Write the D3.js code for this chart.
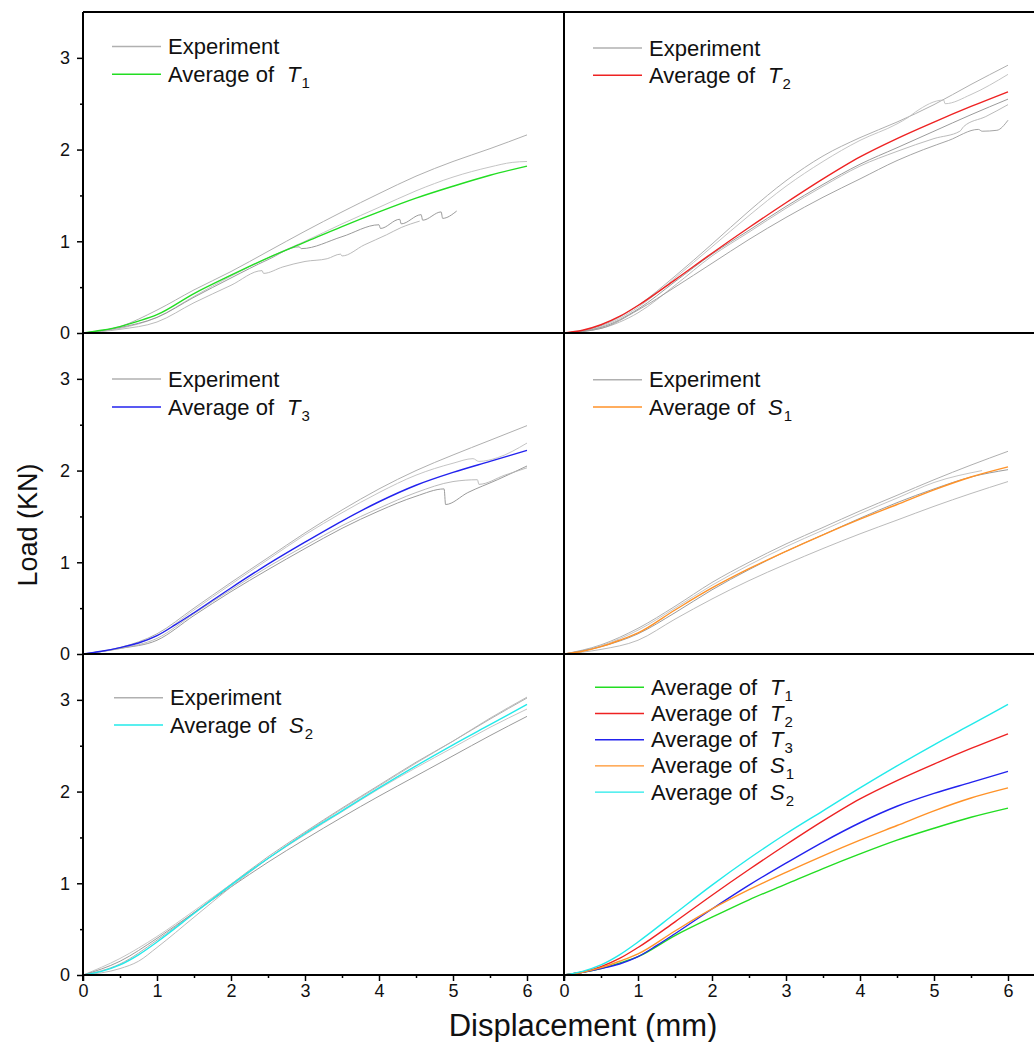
<!DOCTYPE html>
<html>
<head>
<meta charset="utf-8">
<script src="https://cdn.jsdelivr.net/npm/d3@7"></script>
<style>
  body { margin: 0; background: #fff; }
  svg { display: block; font-family: "Liberation Sans", Arial, sans-serif; }
</style>
</head>
<body>
<div id="chart"></div>
<script>
// DATA  (displacement mm, load KN)
const xTicks = [0, 1, 2, 3, 4, 5, 6];
const yTicks = [0, 1, 2, 3];

const avgT1 = [[0,0],[0.25,0.03],[0.5,0.07],[0.75,0.13],[1,0.2],[1.5,0.43],[2,0.63],[2.5,0.82],[3,0.99],[3.5,1.16],[4,1.32],[4.5,1.47],[5,1.6],[5.5,1.72],[6,1.82]];
const avgT2 = [[0,0],[0.25,0.03],[0.5,0.09],[0.75,0.18],[1,0.3],[1.5,0.58],[2,0.87],[2.5,1.15],[3,1.42],[3.5,1.68],[4,1.92],[4.5,2.12],[5,2.3],[5.5,2.47],[6,2.63]];
const avgT3 = [[0,0],[0.25,0.03],[0.5,0.07],[0.75,0.12],[1,0.2],[1.25,0.32],[1.5,0.45],[2,0.72],[2.5,0.98],[3,1.22],[3.5,1.45],[4,1.66],[4.5,1.84],[5,1.98],[5.5,2.1],[6,2.22]];
const avgS1 = [[0,0],[0.25,0.03],[0.5,0.08],[0.75,0.15],[1,0.23],[1.5,0.48],[2,0.72],[2.5,0.93],[3,1.12],[3.5,1.3],[4,1.47],[4.5,1.63],[5,1.79],[5.5,1.93],[6,2.04]];
const avgS2 = [[0,0],[0.25,0.04],[0.5,0.11],[0.75,0.22],[1,0.36],[1.5,0.67],[2,0.98],[2.5,1.27],[3,1.54],[3.5,1.79],[4,2.04],[4.5,2.28],[5,2.51],[5.5,2.73],[6,2.95]];

const expT1 = [
  [[0,0],[0.5,0.07],[1,0.25],[1.5,0.47],[2,0.67],[2.5,0.89],[3,1.11],[3.5,1.32],[4,1.52],[4.5,1.71],[5,1.87],[5.5,2.01],[6,2.16]],
  [[0,0],[0.5,0.05],[1,0.17],[1.5,0.4],[2,0.62],[2.5,0.82],[3,1.0],[3.5,1.19],[4,1.37],[4.5,1.55],[5,1.7],[5.5,1.81],[5.8,1.86],[6,1.87]],
  [[0,0],[0.5,0.06],[1,0.17],[1.5,0.39],[2,0.6],[2.5,0.8],[2.92,0.94],[2.95,0.92],[3.5,1.05],[4.0,1.18],[4.02,1.14],[4.28,1.24],[4.3,1.19],[4.57,1.29],[4.59,1.23],[4.84,1.32],[4.86,1.25],[5.05,1.33]],
  [[0,0],[0.5,0.04],[1,0.12],[1.5,0.33],[2,0.52],[2.42,0.68],[2.44,0.65],[2.7,0.72],[3,0.78],[3.3,0.81],[3.48,0.86],[3.5,0.84],[3.8,0.96],[4.1,1.07],[4.3,1.15],[4.55,1.22]]
];
const expT2 = [
  [[0,0],[0.5,0.08],[1,0.3],[1.5,0.62],[2,0.97],[2.5,1.33],[3,1.66],[3.5,1.93],[4,2.13],[4.5,2.3],[5,2.49],[5.5,2.71],[6,2.92]],
  [[0,0],[0.5,0.07],[1,0.28],[1.5,0.6],[2,0.94],[2.5,1.28],[3,1.6],[3.5,1.87],[4,2.1],[4.5,2.28],[4.65,2.35],[4.75,2.41],[5.13,2.54],[5.15,2.5],[5.5,2.6],[6,2.82]],
  [[0,0],[0.5,0.06],[1,0.26],[1.5,0.56],[2,0.86],[2.5,1.12],[3,1.38],[3.5,1.62],[4,1.84],[4.5,2.02],[5,2.2],[5.5,2.38],[6,2.55]],
  [[0,0],[0.5,0.05],[1,0.22],[1.5,0.52],[2,0.84],[2.5,1.1],[3,1.36],[3.5,1.6],[4,1.82],[4.5,1.98],[5,2.12],[5.35,2.2],[5.4,2.25],[5.7,2.36],[6,2.49]],
  [[0,0],[0.5,0.05],[1,0.25],[1.5,0.5],[2,0.76],[2.5,1.02],[3,1.26],[3.5,1.48],[4,1.68],[4.5,1.88],[4.86,2.0],[5.2,2.1],[5.6,2.22],[5.65,2.2],[5.85,2.21],[6,2.32]]
];
const expT3 = [
  [[0,0],[0.5,0.07],[1,0.22],[1.5,0.5],[2,0.78],[2.5,1.05],[3,1.32],[3.5,1.57],[4,1.8],[4.5,2.0],[5,2.17],[5.5,2.33],[6,2.49]],
  [[0,0],[0.5,0.07],[1,0.2],[1.5,0.48],[2,0.76],[2.5,1.03],[3,1.3],[3.5,1.54],[4,1.76],[4.5,1.95],[5,2.08],[5.27,2.13],[5.35,2.1],[5.6,2.14],[6,2.3]],
  [[0,0],[0.5,0.06],[1,0.15],[1.5,0.42],[2,0.68],[2.5,0.92],[3,1.15],[3.5,1.37],[4,1.56],[4.5,1.72],[4.88,1.8],[4.9,1.63],[5.2,1.76],[5.6,1.9],[6,2.05]],
  [[0,0],[0.5,0.06],[1,0.17],[1.5,0.44],[2,0.7],[2.5,0.95],[3,1.18],[3.5,1.4],[4,1.59],[4.5,1.76],[5,1.88],[5.33,1.9],[5.35,1.85],[5.7,1.95],[6,2.03]]
];
const expS1 = [
  [[0,0],[0.5,0.1],[1,0.28],[1.5,0.52],[2,0.78],[2.5,1.0],[3,1.2],[3.5,1.38],[4,1.56],[4.5,1.73],[5,1.9],[5.5,2.06],[6,2.21]],
  [[0,0],[0.5,0.09],[1,0.26],[1.5,0.5],[2,0.75],[2.5,0.97],[3,1.17],[3.5,1.35],[4,1.53],[4.5,1.7],[5,1.87],[5.65,2.0]],
  [[0,0],[0.5,0.08],[1,0.22],[1.5,0.45],[2,0.7],[2.5,0.92],[3,1.12],[3.5,1.3],[4,1.48],[4.5,1.65],[5,1.8],[5.5,1.93],[6,2.01]],
  [[0,0],[0.5,0.05],[1,0.15],[1.5,0.38],[2,0.6],[2.5,0.8],[3,0.98],[3.5,1.15],[4,1.31],[4.5,1.46],[5,1.61],[5.5,1.75],[6,1.88]]
];
const expS2 = [
  [[0,0],[0.5,0.12],[1,0.38],[1.5,0.68],[2,0.99],[2.5,1.29],[3,1.56],[3.5,1.82],[4,2.07],[4.5,2.32],[5,2.55],[5.5,2.79],[6,3.02]],
  [[0,0],[0.5,0.18],[1,0.42],[1.5,0.7],[2,0.99],[2.5,1.27],[3,1.53],[3.5,1.78],[4,2.03],[4.5,2.26],[5,2.48],[5.5,2.7],[6,2.9]],
  [[0,0],[0.5,0.15],[1,0.4],[1.5,0.68],[2,0.96],[2.5,1.23],[3,1.48],[3.5,1.72],[4,1.95],[4.5,2.17],[5,2.39],[5.5,2.61],[6,2.82]],
  [[0,0],[0.5,0.07],[0.75,0.15],[1,0.3],[1.5,0.63],[2,0.96],[2.5,1.27],[3,1.55],[3.5,1.81],[4,2.06],[4.5,2.31],[5,2.55],[5.5,2.8],[6,3.03]]
];

const groupNames = ['T', 'T', 'T', 'S', 'S'];
const groupSubs = ['1', '2', '3', '1', '2'];
const averages = [avgT1, avgT2, avgT3, avgS1, avgS2];
const experiments = [expT1, expT2, expT3, expS1, expS2];

// STYLE / LAYOUT
const avgColors = ['#22dd22', '#ee2222', '#2222ee', '#ff9228', '#22eaea'];
const greys = ['#a6a6a6', '#bdbdbd', '#8e8e8e', '#b2b2b2', '#9a9a9a'];
const W = 1034, H = 1042;
const colX = [83, 564];
const rowY = [12, 333, 654];
const panelW = 481, panelH = 321;
const legendTop = [34.5, 36, 46, 46.7, 43.7, 33.3];
const legendStep = [27.7, 27.3, 28, 27.3, 27.3, 26.2];
const legendLeft = [29, 29, 29, 29, 31, 31];
const font = '"Liberation Sans", Arial, sans-serif';

const svg = d3.select('#chart').append('svg')
  .attr('width', W)
  .attr('height', H);

const line = d3.line().curve(d3.curveMonotoneX);

function drawPanel(i) {
  const col = i % 2, row = Math.floor(i / 2);
  const x = d3.scaleLinear().domain([0, 6.5]).range([0, panelW]);
  const y = d3.scaleLinear().domain([0, 3.5]).range([panelH, 0]);
  line.x(d => x(d[0])).y(d => y(d[1]));

  const g = svg.append('g')
    .attr('transform', `translate(${colX[col]},${rowY[row]})`);

  let legendItems;
  if (i < 5) {
    g.selectAll('path.exp')
      .data(experiments[i])
      .enter().append('path')
      .attr('class', 'exp')
      .attr('d', line)
      .attr('fill', 'none')
      .attr('stroke', (d, k) => greys[k % greys.length])
      .attr('stroke-width', 0.9);

    g.append('path')
      .attr('d', line(averages[i]))
      .attr('fill', 'none')
      .attr('stroke', avgColors[i])
      .attr('stroke-width', 1.4);

    legendItems = [
      { color: '#b0b0b0', label: 'Experiment' },
      { color: avgColors[i], label: 'Average of', sym: groupNames[i], sub: groupSubs[i] }
    ];
  } else {
    g.selectAll('path.avg')
      .data(averages)
      .enter().append('path')
      .attr('class', 'avg')
      .attr('d', line)
      .attr('fill', 'none')
      .attr('stroke', (d, k) => avgColors[k])
      .attr('stroke-width', 1.4);

    legendItems = averages.map((d, k) => ({
      color: avgColors[k], label: 'Average of', sym: groupNames[k], sub: groupSubs[k]
    }));
  }

  // legend
  const lg = g.append('g')
    .attr('transform', `translate(${legendLeft[i]},${legendTop[i]})`);
  legendItems.forEach((it, k) => {
    const yy = k * legendStep[i];
    lg.append('line')
      .attr('x1', 0).attr('x2', 49)
      .attr('y1', yy).attr('y2', yy)
      .attr('stroke', it.color)
      .attr('stroke-width', 1.4);
    const t = lg.append('text')
      .attr('x', 56)
      .attr('y', yy + 7.6)
      .style('font-family', font)
      .style('font-size', '22px')
      .attr('fill', '#111');
    t.append('tspan').text(it.label);
    if (it.sym) {
      t.append('tspan').attr('dx', 13).style('font-style', 'italic').text(it.sym);
      t.append('tspan').attr('dx', 1).attr('dy', 6).style('font-size', '15px').text(it.sub);
    }
  });

  // y ticks, left column only
  if (col === 0) {
    const yAxis = d3.axisLeft(y).tickValues(yTicks).tickSize(6).tickPadding(7).tickFormat(d3.format('d'));
    const ya = g.append('g').call(yAxis);
    ya.select('.domain').remove();
    ya.selectAll('line').attr('stroke', '#000').attr('stroke-width', 1.5);
    ya.selectAll('text').style('font-family', font).style('font-size', '18px').attr('fill', '#111');
    g.append('g').call(d3.axisLeft(y).tickValues([0.5, 1.5, 2.5]).tickSize(3).tickFormat(''))
      .call(a => a.select('.domain').remove())
      .selectAll('line').attr('stroke', '#000').attr('stroke-width', 1.5);
  }

  // x ticks, bottom row only
  if (row === 2) {
    const xAxis = d3.axisBottom(x).tickValues(xTicks).tickSize(6).tickPadding(3).tickFormat(d3.format('d'));
    const xa = g.append('g').attr('transform', `translate(0,${panelH})`).call(xAxis);
    xa.select('.domain').remove();
    xa.selectAll('line').attr('stroke', '#000').attr('stroke-width', 1.5);
    xa.selectAll('text').style('font-family', font).style('font-size', '18px').attr('fill', '#111');
    g.append('g').attr('transform', `translate(0,${panelH})`)
      .call(d3.axisBottom(x).tickValues([0.5, 1.5, 2.5, 3.5, 4.5, 5.5, 6.5]).tickSize(3).tickFormat(''))
      .call(a => a.select('.domain').remove())
      .selectAll('line').attr('stroke', '#000').attr('stroke-width', 1.5);
  }

  // frame: left and bottom axis lines, plus top for first row
  g.append('line').attr('x1', 0).attr('x2', 0).attr('y1', 0).attr('y2', panelH + (row === 2 ? 6 : 0))
    .attr('stroke', '#000').attr('stroke-width', 2);
  g.append('line').attr('x1', 0).attr('x2', panelW).attr('y1', panelH).attr('y2', panelH)
    .attr('stroke', '#000').attr('stroke-width', 2);
  if (row === 0) {
    g.append('line').attr('x1', 0).attr('x2', panelW).attr('y1', 0).attr('y2', 0)
      .attr('stroke', '#000').attr('stroke-width', 2);
  }
}

for (let i = 0; i < 6; i++) drawPanel(i);

// axis titles
svg.append('text')
  .attr('transform', `translate(37,525) rotate(-90)`)
  .attr('text-anchor', 'middle')
  .style('font-family', font)
  .style('font-size', '27px')
  .attr('fill', '#111')
  .text('Load (KN)');

svg.append('text')
  .attr('x', 583)
  .attr('y', 1036)
  .attr('text-anchor', 'middle')
  .style('font-family', font)
  .style('font-size', '31px')
  .attr('fill', '#111')
  .text('Displacement (mm)');
</script>
</body>
</html>
